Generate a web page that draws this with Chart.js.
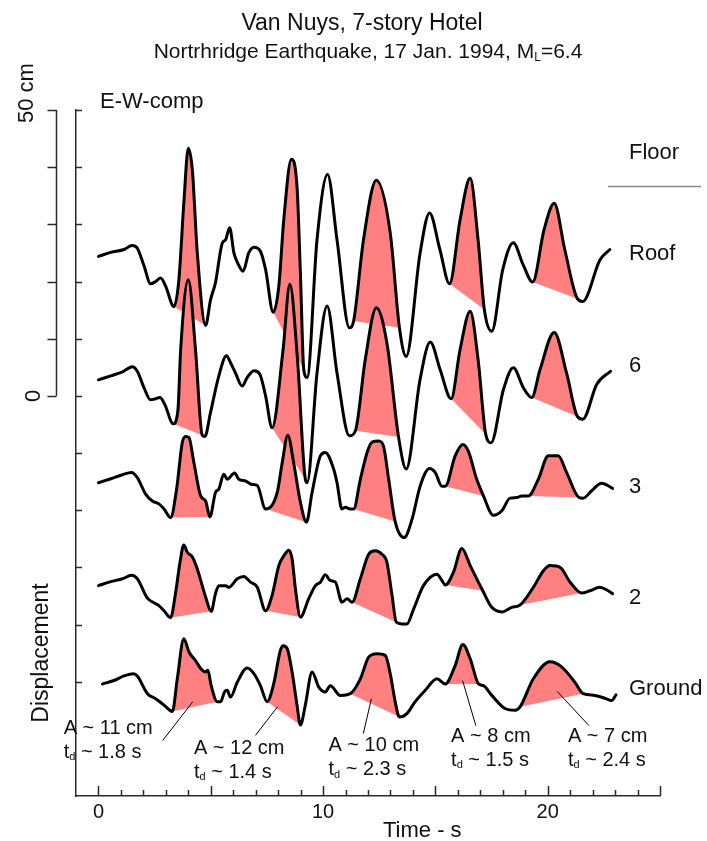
<!DOCTYPE html>
<html lang="en">
<head>
<meta charset="utf-8">
<title>Van Nuys, 7-story Hotel</title>
<script src="https://cdn.jsdelivr.net/npm/chart.js@4.4.1/dist/chart.umd.min.js"></script>
<style>
  html, body { margin: 0; padding: 0; background: #fff; }
  #box { position: relative; width: 707px; height: 841px; }
</style>
</head>
<body>
<div id="box"><canvas id="records"></canvas></div>
<script>
// E-W displacement histories, one trace per floor.
// Points are [time (s), displacement (cm)] about the trace's own baseline.
const floorNames = ['Roof', '6', '3', '2', 'Ground'];
const baselines = [24, 3, -15, -33, -51];            // cm, where each trace hangs
const labelLevels = [23.8, 4.1, -17, -36.4, -52.4];  // cm, floor names on the right

const roofDisp = [
  [0, 0.4], [0.55, 1.1], [1.14, 1.6], [1.5, 2.3], [1.72, 1.9], [2.03, -1.3], [2.32, -4.4], [2.55, -4.0], [2.77, -3.4], [2.99, -4.8],
  [3.36, -8.4], [3.58, -3.7], [3.8, 9.7], [4.0, 19.3], [4.18, 15.5], [4.4, 1.0], [4.77, -11.7],
  [4.99, -7.2], [5.21, -4.2], [5.51, 2.7], [5.66, 3.3], [5.84, 5.4], [6.03, 1.0], [6.18, -0.6], [6.44, -2.2], [6.69, 1.0], [6.92, 2.0], [7.21, 1.3], [7.44, -1.9],
  [7.78, -9.4], [8.03, -4.8], [8.25, 6.8], [8.59, 17.4], [8.84, 12.6], [8.99, -2.5], [9.14, -19.4], [9.29, -20.8],
  [9.73, 3.3], [10.2, 14.7], [10.62, 3.3], [11.17, -12.1], [11.36, -10.9], [11.8, 3.3], [12.37, 13.7], [12.99, 4.5], [13.4, -12.1], [13.7, -17.1],
  [14.32, 1.0], [14.74, 8.0], [15.2, 1.6], [15.63, -4.4], [16.1, 6.8], [16.55, 14.1], [16.9, 3.3], [17.18, -8.9], [17.51, -12.7],
  [18.0, -1.9], [18.47, 2.8], [18.9, -1.0], [19.33, -4.1], [19.84, 5.1], [20.29, 9.7], [20.76, 1.6], [21.32, -7.0], [21.56, -7.5], [22.33, -0.2], [22.77, 1.6]
];
const floor6Disp = [
  [0, -0.2], [0.55, 0.5], [1.07, 1.2], [1.51, 2.1], [1.73, 1.3], [2.03, -1.6], [2.32, -3.7], [2.55, -3.5], [2.74, -3.3], [2.95, -4.5],
  [3.33, -7.9], [3.54, -5.4], [3.66, 5.1], [4.0, 17.3], [4.32, 5.1], [4.62, -9.9], [4.74, -10.1],
  [4.99, -5.9], [5.36, 0.5], [5.7, 4.0], [5.88, 2.8], [6.1, 1.0], [6.4, -1.3], [6.62, 0.2], [6.92, 1.4], [7.18, 0.8], [7.44, -3.0],
  [7.73, -8.6], [8.22, 5.1], [8.52, 16.5], [8.86, 3.4], [9.21, -17.6], [9.29, -18.2],
  [9.73, 1.0], [10.18, 12.7], [10.62, 1.0], [11.17, -10.0], [11.44, -9.1], [11.88, 3.4], [12.37, 12.4], [12.84, 6.3], [13.36, -10.2], [13.7, -15.8],
  [14.32, -0.1], [14.77, 6.4], [15.21, 1.6], [15.7, -3.5], [16.1, 5.1], [16.55, 11.8], [16.9, 3.4], [17.24, -9.7], [17.48, -11.2],
  [18.03, -1.9], [18.47, 1.9], [18.92, -1.6], [19.29, -3.3], [19.66, 1.6], [20.29, 8.1], [20.84, 1.0], [21.32, -6.6], [21.56, -7.1], [22.18, -1.0], [22.8, 1.3]
];
const floor3Disp = [
  [0, -0.2], [0.55, 0.5], [1.07, 1.2], [1.47, 1.6], [1.73, 0.7], [2.1, -2.2], [2.4, -3.4], [2.69, -3.9], [2.92, -4.8],
  [3.21, -6.3], [3.48, -1.3], [3.73, 6.8], [3.88, 7.9], [4.03, 7.7], [4.25, 3.3], [4.55, -2.5], [4.77, -3.4], [4.96, -6.2],
  [5.21, -1.9], [5.36, -1.3], [5.58, 1.3], [5.73, 0.4], [6.06, 1.5], [6.25, 0.4], [6.55, 0.1], [6.84, -0.5], [7.07, -0.7],
  [7.44, -4.8], [7.96, -1.9], [8.18, 3.3], [8.43, 8.1], [8.69, 3.3], [8.99, -3.6], [9.26, -7.1],
  [9.51, -1.9], [9.88, 4.5], [10.1, 5.1], [10.47, 2.2], [10.62, -0.2], [10.84, -4.8], [10.99, -4.5], [11.21, -4.8],
  [11.36, -4.8], [11.66, 0.4], [11.96, 5.1], [12.18, 6.9], [12.47, 7.1], [12.69, 6.2], [12.92, 0.4], [13.21, -7.0], [13.61, -9.8],
  [13.96, -6.6], [14.32, -0.8], [14.74, 2.3], [14.99, 1.6], [15.29, -0.8], [15.44, -0.8], [15.88, 4.5], [16.22, 6.5], [16.47, 5.3], [16.84, 0.4], [17.14, -2.5],
  [17.58, -5.9], [17.96, -5.1], [18.32, -2.9], [18.62, -2.8], [18.84, -2.5], [19.14, -2.5], [19.58, 0.4], [20.03, 4.5], [20.47, 4.5], [20.84, 1.6], [21.4, -2.8],
  [21.58, -2.9], [21.96, -1.6], [22.4, -0.3], [22.89, -1.2]
];
const floor2Disp = [
  [0, -0.2], [0.55, 0.5], [1.07, 1.0], [1.47, 1.6], [1.73, 1.0], [2.18, -2.4], [2.47, -3.2], [2.69, -3.7], [2.92, -4.6],
  [3.21, -5.8], [3.44, -1.3], [3.63, 3.9], [3.8, 6.9], [3.96, 5.6], [4.18, 4.8], [4.4, 2.7], [4.62, -0.2], [4.77, -2.2], [5.02, -4.7],
  [5.21, -1.6], [5.36, -0.2], [5.66, -0.2], [5.8, -0.5], [6.18, 1.0], [6.47, 1.4], [6.77, 0.4], [7.07, -0.5],
  [7.44, -4.6], [7.73, -1.9], [8.03, 3.3], [8.25, 5.0], [8.47, 6.0], [8.62, 4.5], [8.77, -0.8], [8.99, -5.7],
  [9.36, -2.5], [9.66, -0.2], [9.88, 0.4], [10.1, 1.7], [10.32, 0.7], [10.55, 0.4], [10.84, -3.1], [11.07, -2.5],
  [11.29, -3.1], [11.66, 1.0], [12.03, 5.3], [12.32, 5.9], [12.62, 5.3], [12.84, 3.9], [13.07, -1.9], [13.26, -6.6],
  [13.51, -6.9], [13.73, -6.9], [14.03, -4.3], [14.47, -0.2], [15.07, 1.8], [15.29, 0.7],
  [15.44, -0.1], [15.8, 2.1], [16.18, 6.3], [16.55, 3.3], [17.11, -1.1],
  [17.51, -4.0], [17.96, -4.8], [18.4, -4.0], [18.77, -3.6], [19.36, -0.5], [19.81, 2.4], [20.1, 3.3], [20.55, 3.0], [21.0, 0.4], [21.51, -1.5],
  [21.88, -1.1], [22.32, -0.5], [22.69, -1.1], [22.89, -1.6]
];
const groundDisp = [
  [0.18, 0.6], [0.69, 1.2], [1.14, 2.0], [1.56, 2.4], [1.73, 2.0], [2.18, -1.1], [2.55, -2.0], [2.92, -3.1],
  [3.29, -4.2], [3.51, 1.5], [3.8, 8.5], [4.03, 6.2], [4.32, 4.7], [4.55, 3.3], [4.77, 2.7], [4.87, 3.0], [5.02, 0.3], [5.29, -2.5],
  [5.44, -2.5], [5.61, -0.8], [5.73, -0.5], [5.88, -1.7], [6.18, 0.9], [6.62, 3.4], [6.92, 2.4], [7.21, 0.3],
  [7.51, -2.5], [7.8, 0.6], [8.1, 6.5], [8.22, 7.3], [8.4, 6.8], [8.62, 2.7], [8.84, -3.1], [8.99, -6.6],
  [9.21, -3.1], [9.51, 2.7], [9.8, 0.1], [10.1, -0.8], [10.32, 0.3], [10.77, -1.4],
  [11.21, -1.1], [11.66, 1.5], [12.03, 5.3], [12.4, 5.9], [12.77, 5.6], [12.99, 2.4], [13.21, -2.5], [13.4, -5.2],
  [13.73, -4.6], [14.1, -2.5], [14.55, -0.5], [15.07, 1.5],
  [15.44, 0.6], [15.88, 3.8], [16.22, 7.5], [16.55, 5.0], [16.92, 0.6],
  [17.14, 0.3], [17.51, -1.4], [18.1, -3.7], [18.55, -4.0],
  [18.77, -3.4], [19.36, 1.5], [20.1, 4.5], [20.62, 3.6], [21.21, 0.9], [21.58, -1.1],
  [22.1, -1.4], [22.62, -2.0], [22.84, -2.3], [23.04, -1.3]
];

// start / end times of the shaded velocity pulses on each trace
const roofPulses = [[3.36, 4.77], [7.78, 9.14], [11.36, 13.4], [15.63, 17.18], [19.33, 21.32]];
const floor6Pulses = [[3.33, 4.62], [7.73, 9.21], [11.44, 13.36], [15.7, 17.24], [19.29, 21.32]];
const floor3Pulses = [[3.21, 4.96], [7.44, 9.26], [11.36, 13.21], [15.44, 17.14], [19.14, 21.4]];
const floor2Pulses = [[3.21, 5.02], [7.44, 8.99], [11.29, 13.26], [15.44, 17.11], [18.77, 21.51]];
const groundPulses = [[3.29, 5.29], [7.51, 8.99], [11.21, 13.4], [15.44, 16.92], [18.77, 21.58]];

// ground pulse amplitude (cm) and duration (s), with where their notes sit (time, cm)
const pulseAmp = [11, 12, 10, 8, 7];
const pulseDur = [1.8, 1.4, 2.3, 1.5, 2.4];
const noteAnchor = [[-1.55, -59.1], [4.25, -62.6], [10.24, -62.2], [15.7, -60.5], [20.9, -60.5]];
const noteLeader = [
  [2.86, -60.3, 4.2, -53.5], [6.99, -59.4, 7.97, -54.4], [11.79, -59.1, 12.15, -53.0],
  [16.8, -57.7, 16.21, -49.8], [21.84, -57.7, 20.42, -51.7]
];

const traces = [roofDisp, floor6Disp, floor3Disp, floor2Disp, groundDisp];
const pulseSets = [roofPulses, floor6Pulses, floor3Pulses, floor2Pulses, groundPulses];

const FONT = '"Liberation Sans", Arial, Helvetica, sans-serif';
const INK = '#111';
const AXIS = '#2a2a2a';
const PULSE = '#ff8080';

function px(size) { return size + 'px ' + FONT; }

function pointAt(series, t) {
  return series.find(p => Math.abs(p[0] - t) < 1e-6);
}

const datasets = [];
traces.forEach((series, i) => {
  datasets.push({
    label: floorNames[i],
    data: series.map(p => ({ x: p[0], y: baselines[i] + p[1] })),
    borderColor: '#000',
    borderWidth: 3,
    borderJoinStyle: 'round',
    borderCapStyle: 'round',
    pointRadius: 0,
    cubicInterpolationMode: 'monotone',
    fill: false
  });
});
// chords under each pulse, filled up to the trace they belong to
pulseSets.forEach((set, i) => {
  set.forEach(([t0, t1]) => {
    const a = pointAt(traces[i], t0), b = pointAt(traces[i], t1);
    datasets.push({
      label: floorNames[i] + ' pulse',
      data: [{ x: a[0], y: baselines[i] + a[1] }, { x: b[0], y: baselines[i] + b[1] }],
      borderColor: 'rgba(0,0,0,0)',
      borderWidth: 1,
      pointRadius: 0,
      tension: 0,
      backgroundColor: PULSE,
      fill: { target: i, above: PULSE, below: PULSE }
    });
  });
});

// text with a lowered subscript, e.g. t_d or M_L
function subText(ctx, x, y, head, sub, tail, size) {
  ctx.font = px(size);
  ctx.fillText(head, x, y);
  let cx = x + ctx.measureText(head).width;
  ctx.font = px(Math.round(size * 0.55));
  ctx.fillText(sub, cx, y + size * 0.12);
  cx += ctx.measureText(sub).width;
  ctx.font = px(size);
  ctx.fillText(tail, cx, y);
  return cx + ctx.measureText(tail).width - x;
}

const decor = {
  id: 'decor',
  afterDraw(chart) {
    const { ctx, chartArea } = chart;
    const xs = chart.scales.x, ys = chart.scales.y;
    ctx.save();

    // inward tick marks on both axes
    ctx.strokeStyle = AXIS;
    ctx.lineWidth = 1.5;
    ctx.beginPath();
    xs.ticks.forEach(tk => {
      if (tk.value < 0) return;
      const x = Math.round(xs.getPixelForValue(tk.value)) + 0.5;
      const len = tk.value % 5 === 0 ? 10 : 6;
      ctx.moveTo(x, chartArea.bottom);
      ctx.lineTo(x, chartArea.bottom - len);
    });
    ys.ticks.forEach(tk => {
      if (tk.value < -50) return;
      const y = Math.round(ys.getPixelForValue(tk.value)) + 0.5;
      ctx.moveTo(chartArea.left, y);
      ctx.lineTo(chartArea.left + 6, y);
    });
    ctx.stroke();

    // 0 - 50 cm scale bar
    const bx = chartArea.left - 19.5;
    const y0 = ys.getPixelForValue(0), y50 = ys.getPixelForValue(50);
    ctx.beginPath();
    ctx.moveTo(bx, y0);
    ctx.lineTo(bx, y50);
    for (let v = 0; v <= 50; v += 10) {
      const y = Math.round(ys.getPixelForValue(v)) + 0.5;
      ctx.moveTo(bx, y);
      ctx.lineTo(bx - 9, y);
    }
    ctx.stroke();

    ctx.fillStyle = INK;
    ctx.textBaseline = 'alphabetic';

    // rotated labels on the left
    ctx.save();
    ctx.translate(33, y50 + 13);
    ctx.rotate(-Math.PI / 2);
    ctx.font = px(22);
    ctx.textAlign = 'left';
    ctx.fillText('50 cm', 0, 0);
    ctx.restore();

    ctx.save();
    ctx.translate(40, y0);
    ctx.rotate(-Math.PI / 2);
    ctx.font = px(22);
    ctx.textAlign = 'center';
    ctx.fillText('0', 0, 0);
    ctx.restore();

    ctx.save();
    ctx.translate(48, 653);
    ctx.rotate(-Math.PI / 2);
    ctx.font = px(23);
    ctx.textAlign = 'center';
    ctx.fillText('Displacement', 0, 0);
    ctx.restore();

    // titles
    ctx.textAlign = 'center';
    ctx.font = px(23);
    ctx.fillText('Van Nuys, 7-story Hotel', 362, 30);
    ctx.textAlign = 'left';
    ctx.font = px(21);
    const head = 'Nortrhridge Earthquake, 17 Jan. 1994, M';
    let w = ctx.measureText(head).width + ctx.measureText('=6.4').width;
    ctx.font = px(12);
    w += ctx.measureText('L').width;
    subText(ctx, 368 - w / 2, 58, head, 'L', '=6.4', 21);

    ctx.font = px(22);
    ctx.fillText('E-W-comp', 100, 108);

    // floor key on the right
    ctx.fillText('Floor', 629, 159);
    ctx.strokeStyle = '#8a8a8a';
    ctx.lineWidth = 1.5;
    ctx.beginPath();
    ctx.moveTo(608, 186.5);
    ctx.lineTo(701, 186.5);
    ctx.stroke();
    floorNames.forEach((name, i) => {
      ctx.fillText(name, 629, ys.getPixelForValue(labelLevels[i]));
    });

    ctx.fillText('Time - s', 383, 837);

    // pulse notes with leader lines
    ctx.strokeStyle = '#000';
    ctx.lineWidth = 1;
    ctx.beginPath();
    noteLeader.forEach(([t0, d0, t1, d1]) => {
      ctx.moveTo(xs.getPixelForValue(t0), ys.getPixelForValue(d0));
      ctx.lineTo(xs.getPixelForValue(t1), ys.getPixelForValue(d1));
    });
    ctx.stroke();
    noteAnchor.forEach(([t, d], i) => {
      const x = xs.getPixelForValue(t), y = ys.getPixelForValue(d);
      ctx.font = px(20);
      ctx.fillText('A ~ ' + pulseAmp[i] + ' cm', x, y);
      subText(ctx, x, y + 24, 't', 'd', ' ~ ' + pulseDur[i] + ' s', 20);
    });

    ctx.restore();
  }
};

new Chart(document.getElementById('records'), {
  type: 'line',
  data: { datasets },
  options: {
    responsive: true,
    maintainAspectRatio: false,
    animation: false,
    devicePixelRatio: 1,
    events: [],
    layout: { padding: { left: 0, right: 47, top: 110, bottom: 0 } },
    plugins: { legend: { display: false }, tooltip: { enabled: false } },
    scales: {
      x: {
        type: 'linear',
        min: -1,
        max: 25,
        grid: { display: false, drawTicks: false },
        border: { display: true, color: AXIS, width: 1.5 },
        ticks: {
          stepSize: 1,
          autoSkip: false,
          maxRotation: 0,
          padding: 4,
          color: INK,
          font: { family: FONT, size: 20 },
          callback: v => (v >= 0 && v % 10 === 0 ? String(v) : '')
        },
        afterFit: s => { s.height = 45; }
      },
      y: {
        type: 'linear',
        min: -70,
        max: 50,
        grid: { display: false, drawTicks: false },
        border: { display: true, color: AXIS, width: 1.5 },
        ticks: { stepSize: 10, display: false },
        afterFit: s => { s.width = 76; }
      }
    }
  },
  plugins: [decor]
});
</script>
</body>
</html>
